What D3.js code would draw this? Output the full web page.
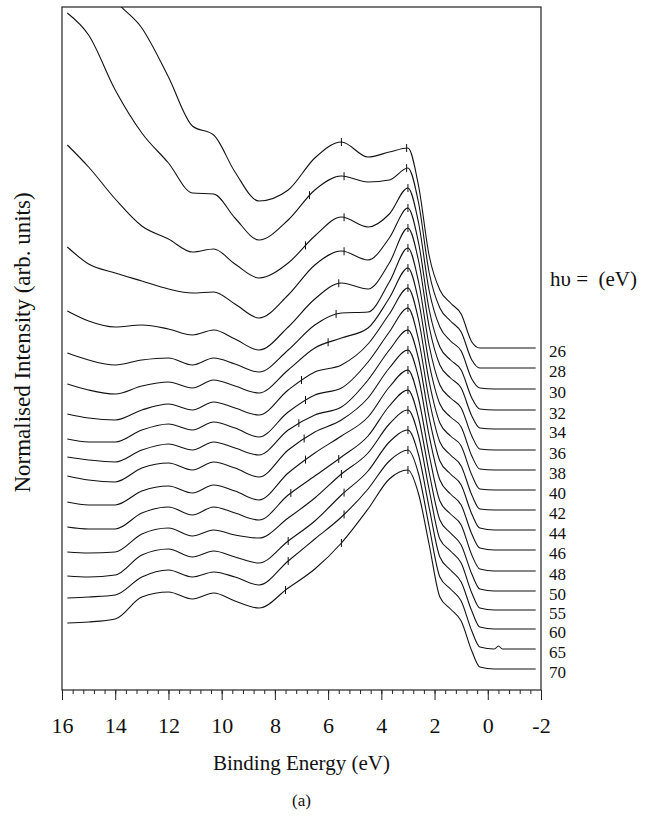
<!DOCTYPE html>
<html>
<head>
<meta charset="utf-8">
<script src="https://cdn.jsdelivr.net/npm/d3@7"></script>
<style>
  body { margin: 0; background: #fff; }
  svg text { font-family: "Liberation Serif", "Times New Roman", serif; fill: #111; }
</style>
</head>
<body>
<div id="chart"></div>
<script>
// photon energies (eV), one spectrum each, top to bottom
var photonEnergies = [26, 28, 30, 32, 34, 36, 38, 40, 42, 44, 46, 48, 50, 55, 60, 65, 70];

// vertical offset of each spectrum (arb. units above the axis)
var offsets = [342, 322, 301, 280, 261, 240, 220, 200, 180, 160, 140, 119, 99, 80, 61, 41, 21];

// binding energies where the spectra were read
var bindingEnergy = [15.8, 15, 14, 13, 12, 11.1, 10.3, 9.5, 8.6, 7.5, 6.5, 5.5, 4.5, 3.7, 3.0,
                     2.6, 2.2, 1.8, 1.4, 1.0, 0.6, 0.3, -0.25, -0.4, -0.55, -1.8];

// normalised intensity of each spectrum (arb. units)
var i26 = [430, 392, 348, 320, 271, 222, 213, 176, 147, 158, 190, 206, 191, 196, 200, 162, 92, 58, 45, 34, 6, 0, 0, 0, 0, 0];
var i28 = [355, 333, 278, 235, 205, 175, 174, 150, 128, 148, 178, 192, 186, 188, 200, 165, 95, 60, 47, 36, 8, 0, 0, 0, 0, 0];
var i30 = [244, 222, 190, 163, 150, 137, 140, 125, 111, 126, 153, 172, 162, 175, 201, 166, 98, 62, 48, 38, 10, 1, 0, 0, 0, 0];
var i32 = [163, 146, 137, 129, 121, 117, 118, 106, 92, 115, 145, 159, 150, 172, 202, 167, 100, 63, 50, 40, 12, 1, 0, 0, 0, 0];
var i34 = [118, 108, 102, 104, 100, 94, 99, 90, 79, 102, 130, 146, 140, 166, 201, 168, 102, 64, 51, 41, 13, 1, 0, 0, 0, 0];
var i36 = [97, 90, 85, 90, 92, 85, 92, 86, 78, 100, 125, 137, 138, 168, 202, 168, 104, 65, 52, 42, 14, 1, 0, 0, 0, 0];
var i38 = [86, 80, 76, 84, 88, 82, 90, 84, 77, 100, 122, 132, 142, 172, 202, 169, 106, 66, 53, 43, 14, 1, 0, 0, 0, 0];
var i40 = [76, 72, 70, 80, 86, 80, 88, 82, 75, 100, 118, 125, 146, 176, 202, 170, 108, 67, 54, 44, 15, 1, 0, 0, 0, 0];
var i42 = [71, 68, 68, 80, 86, 80, 88, 82, 73, 98, 115, 122, 148, 178, 202, 170, 110, 68, 55, 44, 15, 1, 0, 0, 0, 0];
var i44 = [73, 70, 68, 80, 86, 80, 88, 82, 75, 100, 115, 123, 150, 180, 200, 171, 112, 69, 56, 45, 16, 2, 0, 0, 0, 0];
var i46 = [74, 70, 68, 82, 87, 80, 88, 82, 73, 100, 118, 130, 152, 182, 200, 172, 114, 70, 56, 45, 16, 2, 0, 0, 0, 0];
var i48 = [69, 66, 66, 80, 85, 78, 86, 80, 71, 98, 118, 135, 154, 184, 201, 172, 116, 70, 57, 46, 16, 2, 0, 0, 0, 0];
var i50 = [64, 62, 62, 78, 84, 76, 84, 78, 71, 96, 115, 134, 155, 185, 201, 173, 118, 71, 58, 46, 17, 2, 0, 0, 0, 0];
var i55 = [58, 57, 58, 76, 82, 74, 80, 75, 72, 92, 112, 136, 157, 186, 200, 174, 120, 71, 59, 47, 17, 2, 0, 0, 0, 0];
var i60 = [53, 52, 54, 74, 80, 72, 78, 72, 66, 88, 108, 134, 158, 187, 199, 174, 121, 72, 59, 47, 18, 2, 0, 0, 0, 0];
var i65 = [51, 52, 54, 72, 79, 72, 77, 72, 64, 88, 110, 132, 160, 188, 199, 175, 122, 72, 60, 48, 18, 2, 0, 3, 0, 0];
var i70 = [46, 47, 50, 72, 77, 70, 76, 68, 61, 81, 100, 126, 160, 190, 199, 175, 124, 72, 60, 48, 18, 2, 0, 0, 0, 0];

var intensities = [i26, i28, i30, i32, i34, i36, i38, i40, i42, i44, i46, i48, i50, i55, i60, i65, i70];

// small vertical marks drawn on each spectrum (binding energy, eV)
var marks = [[5.5, 3.05], [6.7, 5.4, 3.05], [6.85, 5.4, 3.0], [5.4, 3.0], [5.6, 3.0],
             [5.7, 3.0], [6.0, 3.0], [7.0, 3.0], [6.85, 3.0], [7.1, 3.0], [6.9, 3.0],
             [6.85, 3.0], [7.4, 5.6, 3.0], [5.5, 3.0], [7.5, 5.4, 3.0], [7.5, 5.4, 3.0], [7.6, 5.5, 3.0]];

var xTicks = [16, 14, 12, 10, 8, 6, 4, 2, 0, -2];

var svgWidth = 653;
var svgHeight = 820;
var margin = { top: 7, right: 112, bottom: 130, left: 62 };
var width = svgWidth - margin.left - margin.right;
var height = svgHeight - margin.top - margin.bottom;

var svg = d3.select("#chart")
  .append("svg")
  .attr("width", svgWidth)
  .attr("height", svgHeight);

var chartGroup = svg.append("g")
  .attr("transform", `translate(${margin.left}, ${margin.top})`);

var xScale = d3.scaleLinear().domain([16, -2]).range([0, width]);
var yScale = d3.scaleLinear().domain([0, height]).range([height, 0]);

// clip so the top spectrum stops at the frame
svg.append("defs").append("clipPath").attr("id", "frame")
  .append("rect").attr("width", width).attr("height", height);

// minor ticks every 0.4 eV, major every 2 eV
var minorAxis = d3.axisBottom(xScale).tickValues(d3.range(16, -2.01, -0.4)).tickSize(4).tickFormat("");
var majorAxis = d3.axisBottom(xScale).tickValues(xTicks).tickSize(10).tickPadding(17).tickFormat(d3.format("d"));

chartGroup.append("g")
  .attr("transform", `translate(0, ${height})`)
  .call(minorAxis)
  .call(g => g.select(".domain").remove());

var xAxisG = chartGroup.append("g")
  .attr("transform", `translate(0, ${height})`)
  .call(majorAxis);
xAxisG.select(".domain").remove();
xAxisG.selectAll("text")
  .style("font-size", "22px")
  .text(d => d < 0 ? "-" + Math.abs(d) : d);

chartGroup.selectAll(".tick line").attr("stroke", "#222");

// frame
chartGroup.append("rect")
  .attr("width", width)
  .attr("height", height)
  .attr("fill", "none")
  .attr("stroke", "#222")
  .attr("stroke-width", 1.2);

var line = d3.line()
  .x(d => xScale(d.e))
  .y(d => yScale(d.v))
  .curve(d3.curveMonotoneX);

var curvesG = chartGroup.append("g").attr("clip-path", "url(#frame)");

intensities.forEach(function(vals, k) {
  var pts = bindingEnergy.map((e, j) => ({ e: e, v: offsets[k] + vals[j] }));
  var path = curvesG.append("path")
    .datum(pts)
    .attr("d", line)
    .attr("fill", "none")
    .attr("stroke", "#111")
    .attr("stroke-width", 1.1);

  // place marks on the drawn curve
  var node = path.node();
  var total = node.getTotalLength();
  marks[k].forEach(function(e) {
    var xm = xScale(e);
    var lo = 0, hi = total, p = node.getPointAtLength(0);
    for (var it = 0; it < 30; it++) {
      var mid = (lo + hi) / 2;
      p = node.getPointAtLength(mid);
      if (p.x < xm) lo = mid; else hi = mid;
    }
    curvesG.append("line")
      .attr("x1", xm).attr("x2", xm)
      .attr("y1", p.y - 4).attr("y2", p.y + 4)
      .attr("stroke", "#111")
      .attr("stroke-width", 1);
  });

  // photon energy label at the right
  svg.append("text")
    .attr("x", margin.left + width + 8)
    .attr("y", margin.top + yScale(offsets[k]) + 9)
    .style("font-size", "17px")
    .text(photonEnergies[k]);
});

svg.append("text")
  .attr("x", 550)
  .attr("y", 286)
  .style("font-size", "21px")
  .attr("xml:space", "preserve")
  .text("h\u03c5 =  (eV)");

// axis titles
svg.append("text")
  .attr("x", margin.left + width / 2)
  .attr("y", 770)
  .attr("text-anchor", "middle")
  .style("font-size", "21px")
  .text("Binding Energy (eV)");

svg.append("text")
  .attr("transform", `translate(30, ${margin.top + height / 2 - 6}) rotate(-90)`)
  .attr("text-anchor", "middle")
  .style("font-size", "23px")
  .text("Normalised Intensity (arb. units)");

svg.append("text")
  .attr("x", margin.left + width / 2)
  .attr("y", 806)
  .attr("text-anchor", "middle")
  .style("font-size", "17px")
  .text("(a)");
</script>
</body>
</html>
